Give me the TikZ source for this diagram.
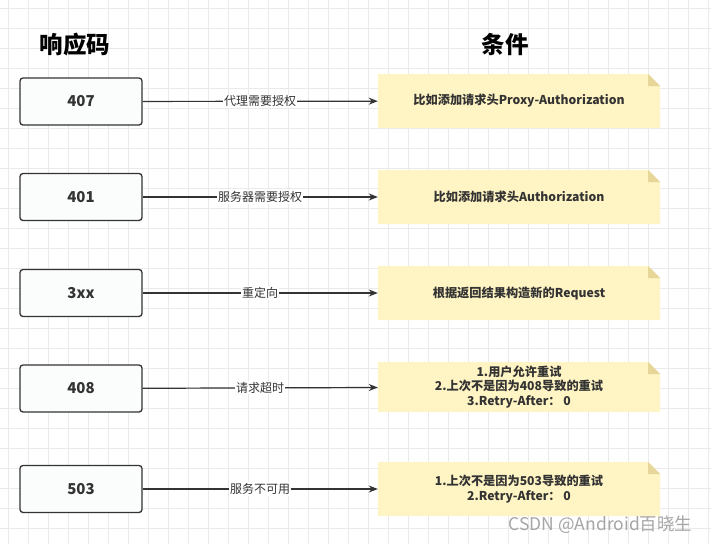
\documentclass[tikz,border=0pt]{standalone}
\usepackage{fontspec}
\setmainfont{Noto Sans CJK SC}
\usetikzlibrary{arrows.meta}
\definecolor{gridc}{HTML}{EAEAEA}
\definecolor{linec}{HTML}{333333}
\definecolor{notefill}{HTML}{FFF4C3}
\definecolor{foldc}{HTML}{E6D69A}
\definecolor{boxfill}{HTML}{FBFCFC}
\tikzset{
  codebox/.style={draw=linec, line width=1.3pt, rounded corners=3pt, fill=boxfill,
    minimum width=122pt, minimum height=47pt, inner sep=0pt,
    font=\fontsize{15}{18}\selectfont\bfseries, text=linec},
  notebox/.style={minimum width=282pt, minimum height=#1, inner sep=0pt,
    align=center, font=\fontsize{12.2}{14.5}\selectfont\bfseries, text=linec,
    path picture={
      \fill[notefill] (path picture bounding box.south west) --
        (path picture bounding box.north west) --
        ([xshift=-12pt]path picture bounding box.north east) --
        ([yshift=-12pt]path picture bounding box.north east) --
        (path picture bounding box.south east) -- cycle;
      \fill[foldc] ([xshift=-12pt]path picture bounding box.north east) --
        ([xshift=-12pt,yshift=-12pt]path picture bounding box.north east) --
        ([yshift=-12pt]path picture bounding box.north east) -- cycle;
    }},
  notebox/.default=54pt,
  conn/.style={draw=linec, line width=1.2pt, -{Stealth[length=9pt,width=7pt]}},
  lab/.style={fill=white, inner sep=1pt, font=\fontsize{12}{14}\selectfont, text=linec},
  head/.style={font=\fontsize{23.5}{27}\selectfont\bfseries, text=black}
}
\begin{document}
\begin{tikzpicture}[x=1pt,y=-1pt]
\useasboundingbox (0,0) rectangle (711,544);
\fill[white] (0,0) rectangle (711,544);
\foreach \i in {0,...,35} {
  \draw[gridc, line width=0.8pt] (8+20*\i,0) -- (8+20*\i,544);
}
\foreach \i in {0,...,27} {
  \draw[gridc, line width=0.8pt] (0,8+20*\i) -- (711,8+20*\i);
}
\node[head] (h1) at (75,45) {响应码};
\node[head] (h2) at (505,45) {条件};

\node[codebox] (c1) at (81,101.5) {407};
\node[codebox] (c2) at (81,197) {401};
\node[codebox] (c3) at (81,293) {3xx};
\node[codebox] (c4) at (81,388.5) {408};
\node[codebox] (c5) at (81,489) {503};

\node[notebox] (n1) at (519,101) {比如添加请求头Proxy-Authorization};
\node[notebox] (n2) at (519,197) {比如添加请求头Authorization};
\node[notebox] (n3) at (519,293) {根据返回结果构造新的Request};
\node[notebox=50pt] (n4) at (519,387) {1.用户允许重试\\2.上次不是因为408导致的重试\\3.Retry-After：\ 0};
\node[notebox] (n5) at (519,489) {1.上次不是因为503导致的重试\\2.Retry-After：\ 0};

\draw[conn] (c1) -- node[lab] {代理需要授权} (n1);
\draw[conn] (c2) -- node[lab] {服务器需要授权} (n2);
\draw[conn] (c3) -- node[lab] {重定向} (n3);
\draw[conn] (c4) -- node[lab] {请求超时} (n4);
\draw[conn] (c5) -- node[lab] {服务不可用} (n5);

\node[font=\fontsize{17.5}{20}\selectfont, text=gray!70, anchor=east] (wm) at (696,525) {CSDN @Android百晓生};
\end{tikzpicture}
\end{document}
